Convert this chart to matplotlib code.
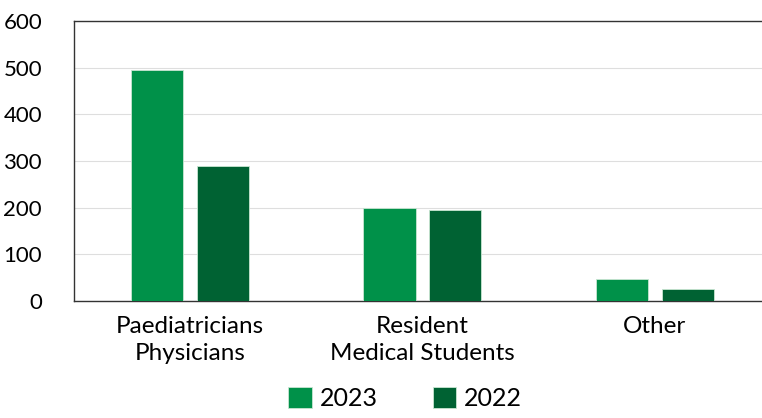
import matplotlib.pyplot as plt
import numpy as np

plt.rcParams['font.family'] = ['Lato', 'DejaVu Sans']

categories = ['Paediatricians\nPhysicians', 'Resident\nMedical Students', 'Other']
values_2023 = [494, 200, 48]
values_2022 = [290, 195, 26]
yticks = [0, 100, 200, 300, 400, 500, 600]

fig = plt.figure(figsize=(7.62, 4.18), dpi=100)
ax = fig.add_axes([74 / 762, 1 - 301 / 418, 690 / 762, 280 / 418])

x = np.arange(len(categories))
w = 0.224
ax.bar(x - 0.142, values_2023, w, color='#009149', edgecolor='#c8e6d2', linewidth=0.6, label='2023', zorder=3)
ax.bar(x + 0.142, values_2022, w, color='#006233', edgecolor='#c8e6d2', linewidth=0.6, label='2022', zorder=3)

ax.set_xlim(-0.50, 2.47)
ax.set_ylim(0, 600)
ax.set_yticks(yticks)
ax.set_xticks(x)
ax.set_xticklabels(categories, fontsize=17.5, linespacing=1.32)
ax.tick_params(axis='y', labelsize=16, length=0, pad=23)
ax.tick_params(axis='x', length=0, pad=11)
ax.grid(axis='y', color='#dedede', linewidth=0.8, zorder=0)
for s in ['top', 'left', 'bottom']:
    ax.spines[s].set_color('#333333')
    ax.spines[s].set_linewidth(1.0)
ax.spines['right'].set_visible(False)

fig.legend(loc='lower center', bbox_to_anchor=(405 / 762, -0.035), ncol=2, frameon=False,
           fontsize=18, handlelength=0.95, handleheight=0.95, handletextpad=0.3, columnspacing=2.2)

fig.savefig('out.png', dpi=100)
